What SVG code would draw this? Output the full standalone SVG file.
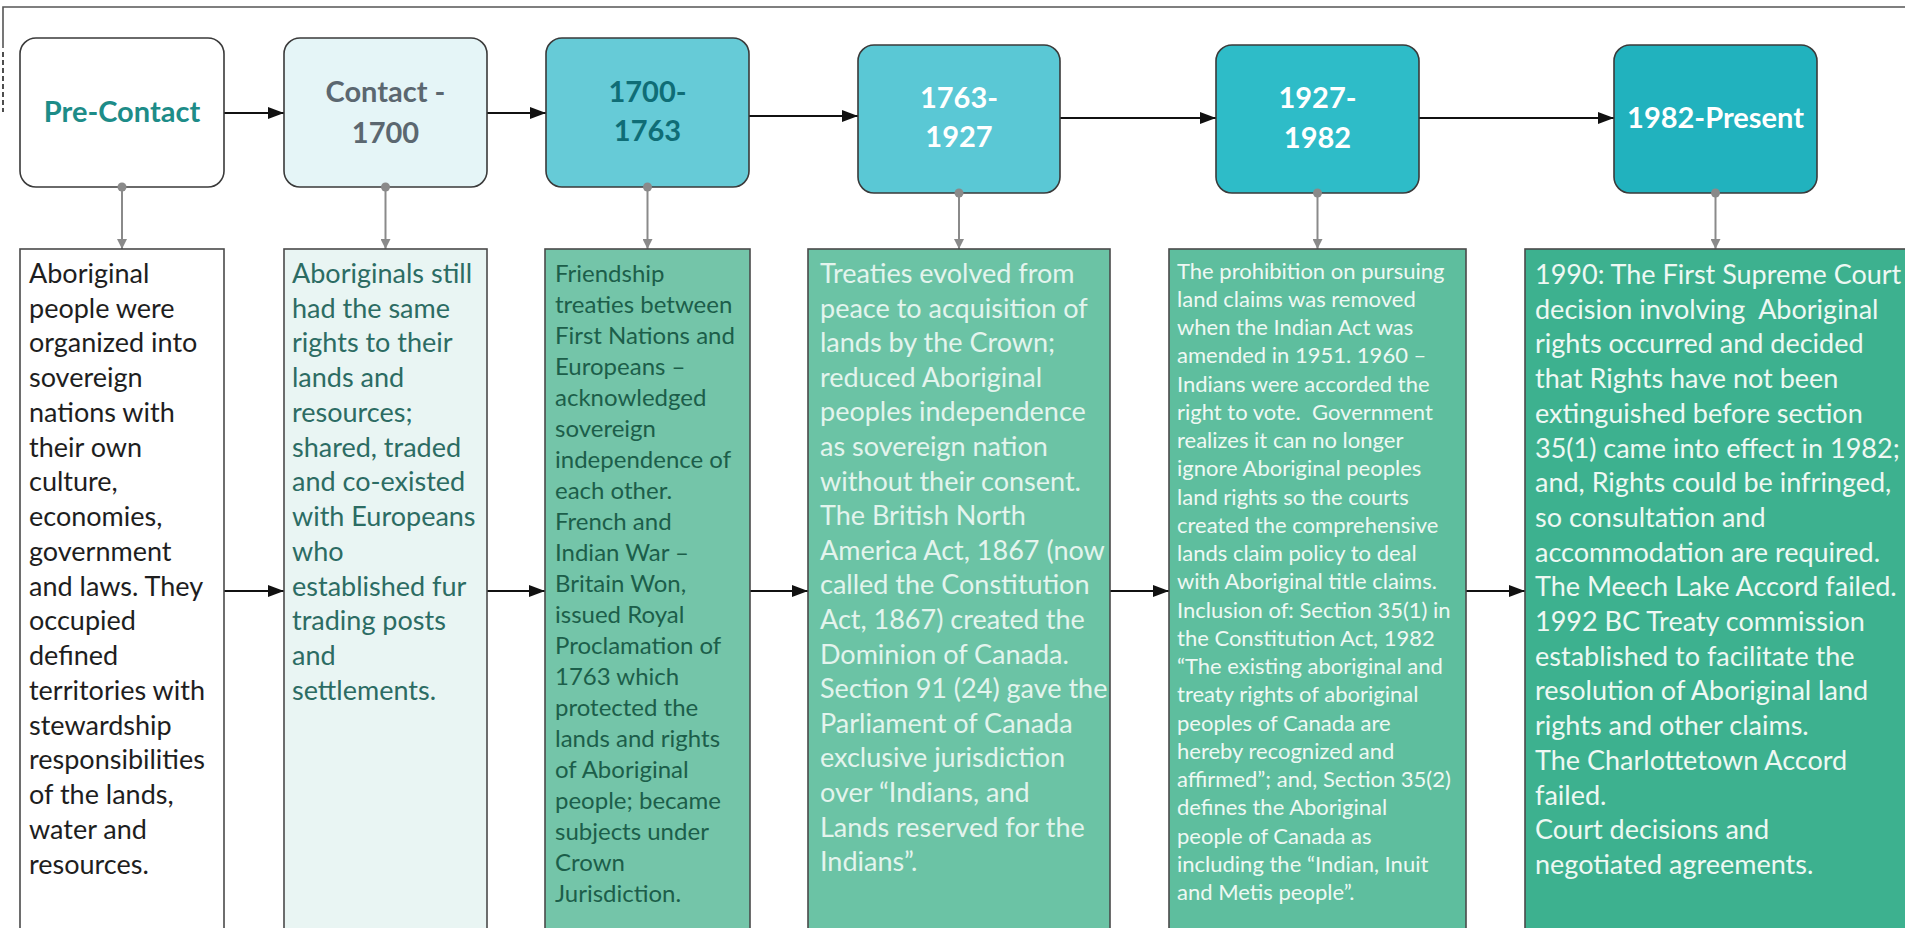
<svg xmlns="http://www.w3.org/2000/svg" width="1905" height="928" viewBox="0 0 1905 928">
<style>
.hdr{font-family:Lato,"Liberation Sans",sans-serif;font-weight:bold;font-size:29px;text-anchor:middle}
.top{stroke:#3a3a3a;stroke-width:1.6}
.box{stroke:#4a4a4a;stroke-width:1.6}
.txt{font-family:Lato,"Liberation Sans",sans-serif}
.hc{stroke:#111;stroke-width:1.8;fill:none}
.vc{stroke:#8a8a8a;stroke-width:2;fill:none}
.dot{fill:#8a8a8a}
</style>
<defs>
<marker id="ah" markerWidth="16" markerHeight="12" refX="16" refY="6" orient="auto" markerUnits="userSpaceOnUse">
<path d="M0,0 L16,6 L0,12 Z" fill="#111"/>
</marker>
<marker id="gh" markerWidth="10" markerHeight="10" refX="10" refY="5" orient="auto" markerUnits="userSpaceOnUse">
<path d="M0,0 L10,5 L0,10 Z" fill="#8a8a8a"/>
</marker>
</defs>
<rect x="0" y="0" width="1905" height="928" fill="#ffffff"/>
<g id="frame">
<path d="M3,48 L3,7 L1905,7" fill="none" stroke="#555" stroke-width="1.6"/>
<path d="M3,52 L3,112" fill="none" stroke="#222" stroke-width="1.6" stroke-dasharray="5,3"/>
</g>

<g id="connectors">
<path class="hc" d="M224,113 L284,113" marker-end="url(#ah)"/>
<path class="hc" d="M487,113 L546,113" marker-end="url(#ah)"/>
<path class="hc" d="M749,116 L858,116" marker-end="url(#ah)"/>
<path class="hc" d="M1060,118 L1216,118" marker-end="url(#ah)"/>
<path class="hc" d="M1419,118 L1614,118" marker-end="url(#ah)"/>
<path class="vc" d="M122,187 L122,249" marker-end="url(#gh)"/>
<path class="vc" d="M385.5,187 L385.5,249" marker-end="url(#gh)"/>
<path class="vc" d="M647.5,187 L647.5,249" marker-end="url(#gh)"/>
<path class="vc" d="M959,193 L959,249" marker-end="url(#gh)"/>
<path class="vc" d="M1317.5,193 L1317.5,249" marker-end="url(#gh)"/>
<path class="vc" d="M1715.5,193 L1715.5,249" marker-end="url(#gh)"/>
<path class="hc" d="M224,591 L284,591" marker-end="url(#ah)"/>
<path class="hc" d="M487,591 L545,591" marker-end="url(#ah)"/>
<path class="hc" d="M750,591 L808,591" marker-end="url(#ah)"/>
<path class="hc" d="M1110,591 L1169,591" marker-end="url(#ah)"/>
<path class="hc" d="M1466,591 L1525,591" marker-end="url(#ah)"/>
</g>

<g id="n-precontact">
<rect class="top" x="20" y="38" width="204" height="149" rx="16" fill="#ffffff"/>
<text class="hdr" x="122" y="122" fill="#1d8c88">Pre-Contact</text>
</g>
<g id="n-contact1700">
<rect class="top" x="284" y="38" width="203" height="149" rx="16" fill="#e5f5f7"/>
<text class="hdr" x="385.5" y="102" fill="#5b6770">Contact -</text>
<text class="hdr" x="385.5" y="143" fill="#5b6770">1700</text>
</g>
<g id="n-1700-1763">
<rect class="top" x="546" y="38" width="203" height="149" rx="16" fill="#66cbd7"/>
<text class="hdr" x="647.5" y="102" fill="#0f6d76">1700-</text>
<text class="hdr" x="647.5" y="141" fill="#0f6d76">1763</text>
</g>
<g id="n-1763-1927">
<rect class="top" x="858" y="45" width="202" height="148" rx="16" fill="#5ac8d5"/>
<text class="hdr" x="959" y="108" fill="#ffffff">1763-</text>
<text class="hdr" x="959" y="147" fill="#ffffff">1927</text>
</g>
<g id="n-1927-1982">
<rect class="top" x="1216" y="45" width="203" height="148" rx="16" fill="#2ebcc8"/>
<text class="hdr" x="1317.5" y="108" fill="#ffffff">1927-</text>
<text class="hdr" x="1317.5" y="148" fill="#ffffff">1982</text>
</g>
<g id="n-1982-present">
<rect class="top" x="1614" y="45" width="203" height="148" rx="16" fill="#21b2be"/>
<text class="hdr" x="1715.5" y="128" fill="#ffffff">1982-Present</text>
</g>

<g id="connector-dots">
<circle class="dot" cx="122" cy="187" r="4.5"/>
<circle class="dot" cx="385.5" cy="187" r="4.5"/>
<circle class="dot" cx="647.5" cy="187" r="4.5"/>
<circle class="dot" cx="959" cy="193" r="4.5"/>
<circle class="dot" cx="1317.5" cy="193" r="4.5"/>
<circle class="dot" cx="1715.5" cy="193" r="4.5"/>
</g>

<g id="d-precontact">
<rect class="box" x="20" y="249" width="204" height="690" fill="#ffffff"/>
<text class="txt" font-size="27" fill="#1e1e1e">
<tspan x="29" y="282.7">Aboriginal</tspan>
<tspan x="29" y="317.5">people were</tspan>
<tspan x="29" y="352.2">organized into</tspan>
<tspan x="29" y="387">sovereign</tspan>
<tspan x="29" y="421.7">nations with</tspan>
<tspan x="29" y="456.5">their own</tspan>
<tspan x="29" y="491.2">culture,</tspan>
<tspan x="29" y="526">economies,</tspan>
<tspan x="29" y="560.7">government</tspan>
<tspan x="29" y="595.5">and laws. They</tspan>
<tspan x="29" y="630.2">occupied</tspan>
<tspan x="29" y="665">defined</tspan>
<tspan x="29" y="699.7">territories with</tspan>
<tspan x="29" y="734.5">stewardship</tspan>
<tspan x="29" y="769.2">responsibilities</tspan>
<tspan x="29" y="804">of the lands,</tspan>
<tspan x="29" y="838.7">water and</tspan>
<tspan x="29" y="873.5">resources.</tspan>
</text>
</g>
<g id="d-contact1700">
<rect class="box" x="284" y="249" width="203" height="690" fill="#e9f5f3"/>
<text class="txt" font-size="27" fill="#2c6c63">
<tspan x="292" y="282.7">Aboriginals still</tspan>
<tspan x="292" y="317.5">had the same</tspan>
<tspan x="292" y="352.2">rights to their</tspan>
<tspan x="292" y="387">lands and</tspan>
<tspan x="292" y="421.7">resources;</tspan>
<tspan x="292" y="456.5">shared, traded</tspan>
<tspan x="292" y="491.2">and co-existed</tspan>
<tspan x="292" y="526">with Europeans</tspan>
<tspan x="292" y="560.7">who</tspan>
<tspan x="292" y="595.5">established fur</tspan>
<tspan x="292" y="630.2">trading posts</tspan>
<tspan x="292" y="665">and</tspan>
<tspan x="292" y="699.7">settlements.</tspan>
</text>
</g>
<g id="d-1700-1763">
<rect class="box" x="545" y="249" width="205" height="690" fill="#74c5a9"/>
<text class="txt" font-size="24" fill="#1c5e4a">
<tspan x="555" y="282">Friendship</tspan>
<tspan x="555" y="313">treaties between</tspan>
<tspan x="555" y="344">First Nations and</tspan>
<tspan x="555" y="375">Europeans –</tspan>
<tspan x="555" y="406">acknowledged</tspan>
<tspan x="555" y="437">sovereign</tspan>
<tspan x="555" y="468">independence of</tspan>
<tspan x="555" y="499">each other.</tspan>
<tspan x="555" y="530">French and</tspan>
<tspan x="555" y="561">Indian War –</tspan>
<tspan x="555" y="592">Britain Won,</tspan>
<tspan x="555" y="623">issued Royal</tspan>
<tspan x="555" y="654">Proclamation of</tspan>
<tspan x="555" y="685">1763 which</tspan>
<tspan x="555" y="716">protected the</tspan>
<tspan x="555" y="747">lands and rights</tspan>
<tspan x="555" y="778">of Aboriginal</tspan>
<tspan x="555" y="809">people; became</tspan>
<tspan x="555" y="840">subjects under</tspan>
<tspan x="555" y="871">Crown</tspan>
<tspan x="555" y="902">Jurisdiction.</tspan>
</text>
</g>
<g id="d-1763-1927">
<rect class="box" x="808" y="249" width="302" height="690" fill="#6bc3a5"/>
<text class="txt" font-size="27" fill="#e3f4ed">
<tspan x="820" y="283">Treaties evolved from</tspan>
<tspan x="820" y="317.6">peace to acquisition of</tspan>
<tspan x="820" y="352.2">lands by the Crown;</tspan>
<tspan x="820" y="386.8">reduced Aboriginal</tspan>
<tspan x="820" y="421.4">peoples independence</tspan>
<tspan x="820" y="456">as sovereign nation</tspan>
<tspan x="820" y="490.6">without their consent.</tspan>
<tspan x="820" y="525.2">The British North</tspan>
<tspan x="820" y="559.8">America Act, 1867 (now</tspan>
<tspan x="820" y="594.4">called the Constitution</tspan>
<tspan x="820" y="629">Act, 1867) created the</tspan>
<tspan x="820" y="663.6">Dominion of Canada.</tspan>
<tspan x="820" y="698.2">Section 91 (24) gave the</tspan>
<tspan x="820" y="732.8">Parliament of Canada</tspan>
<tspan x="820" y="767.4">exclusive jurisdiction</tspan>
<tspan x="820" y="802">over “Indians, and</tspan>
<tspan x="820" y="836.6">Lands reserved for the</tspan>
<tspan x="820" y="871.2">Indians”.</tspan>
</text>
</g>
<g id="d-1927-1982">
<rect class="box" x="1169" y="249" width="297" height="690" fill="#5ebe9e"/>
<text class="txt" font-size="22" fill="#eef8f3">
<tspan x="1177" y="278.7">The prohibition on pursuing</tspan>
<tspan x="1177" y="306.9">land claims was removed</tspan>
<tspan x="1177" y="335.2">when the Indian Act was</tspan>
<tspan x="1177" y="363.4">amended in 1951. 1960 –</tspan>
<tspan x="1177" y="391.7">Indians were accorded the</tspan>
<tspan x="1177" y="419.9">right to vote.&#160; Government</tspan>
<tspan x="1177" y="448.1">realizes it can no longer</tspan>
<tspan x="1177" y="476.4">ignore Aboriginal peoples</tspan>
<tspan x="1177" y="504.6">land rights so the courts</tspan>
<tspan x="1177" y="532.9">created the comprehensive</tspan>
<tspan x="1177" y="561.1">lands claim policy to deal</tspan>
<tspan x="1177" y="589.3">with Aboriginal title claims.</tspan>
<tspan x="1177" y="617.6">Inclusion of: Section 35(1) in</tspan>
<tspan x="1177" y="645.8">the Constitution Act, 1982</tspan>
<tspan x="1177" y="674.1">“The existing aboriginal and</tspan>
<tspan x="1177" y="702.3">treaty rights of aboriginal</tspan>
<tspan x="1177" y="730.5">peoples of Canada are</tspan>
<tspan x="1177" y="758.8">hereby recognized and</tspan>
<tspan x="1177" y="787">affirmed”; and, Section 35(2)</tspan>
<tspan x="1177" y="815.3">defines the Aboriginal</tspan>
<tspan x="1177" y="843.5">people of Canada as</tspan>
<tspan x="1177" y="871.7">including the “Indian, Inuit</tspan>
<tspan x="1177" y="900">and Metis people”.</tspan>
</text>
</g>
<g id="d-1982-present">
<rect class="box" x="1525" y="249" width="390" height="690" fill="#3db18f"/>
<text class="txt" font-size="27" fill="#eef8f3">
<tspan x="1535" y="284">1990: The First Supreme Court</tspan>
<tspan x="1535" y="318.7">decision involving&#160; Aboriginal</tspan>
<tspan x="1535" y="353.4">rights occurred and decided</tspan>
<tspan x="1535" y="388.1">that Rights have not been</tspan>
<tspan x="1535" y="422.8">extinguished before section</tspan>
<tspan x="1535" y="457.5">35(1) came into effect in 1982;</tspan>
<tspan x="1535" y="492.2">and, Rights could be infringed,</tspan>
<tspan x="1535" y="526.9">so consultation and</tspan>
<tspan x="1535" y="561.6">accommodation are required.</tspan>
<tspan x="1535" y="596.3">The Meech Lake Accord failed.</tspan>
<tspan x="1535" y="631">1992 BC Treaty commission</tspan>
<tspan x="1535" y="665.7">established to facilitate the</tspan>
<tspan x="1535" y="700.4">resolution of Aboriginal land</tspan>
<tspan x="1535" y="735.1">rights and other claims.</tspan>
<tspan x="1535" y="769.8">The Charlottetown Accord</tspan>
<tspan x="1535" y="804.5">failed.</tspan>
<tspan x="1535" y="839.2">Court decisions and</tspan>
<tspan x="1535" y="873.9">negotiated agreements.</tspan>
</text>
</g>
</svg>
